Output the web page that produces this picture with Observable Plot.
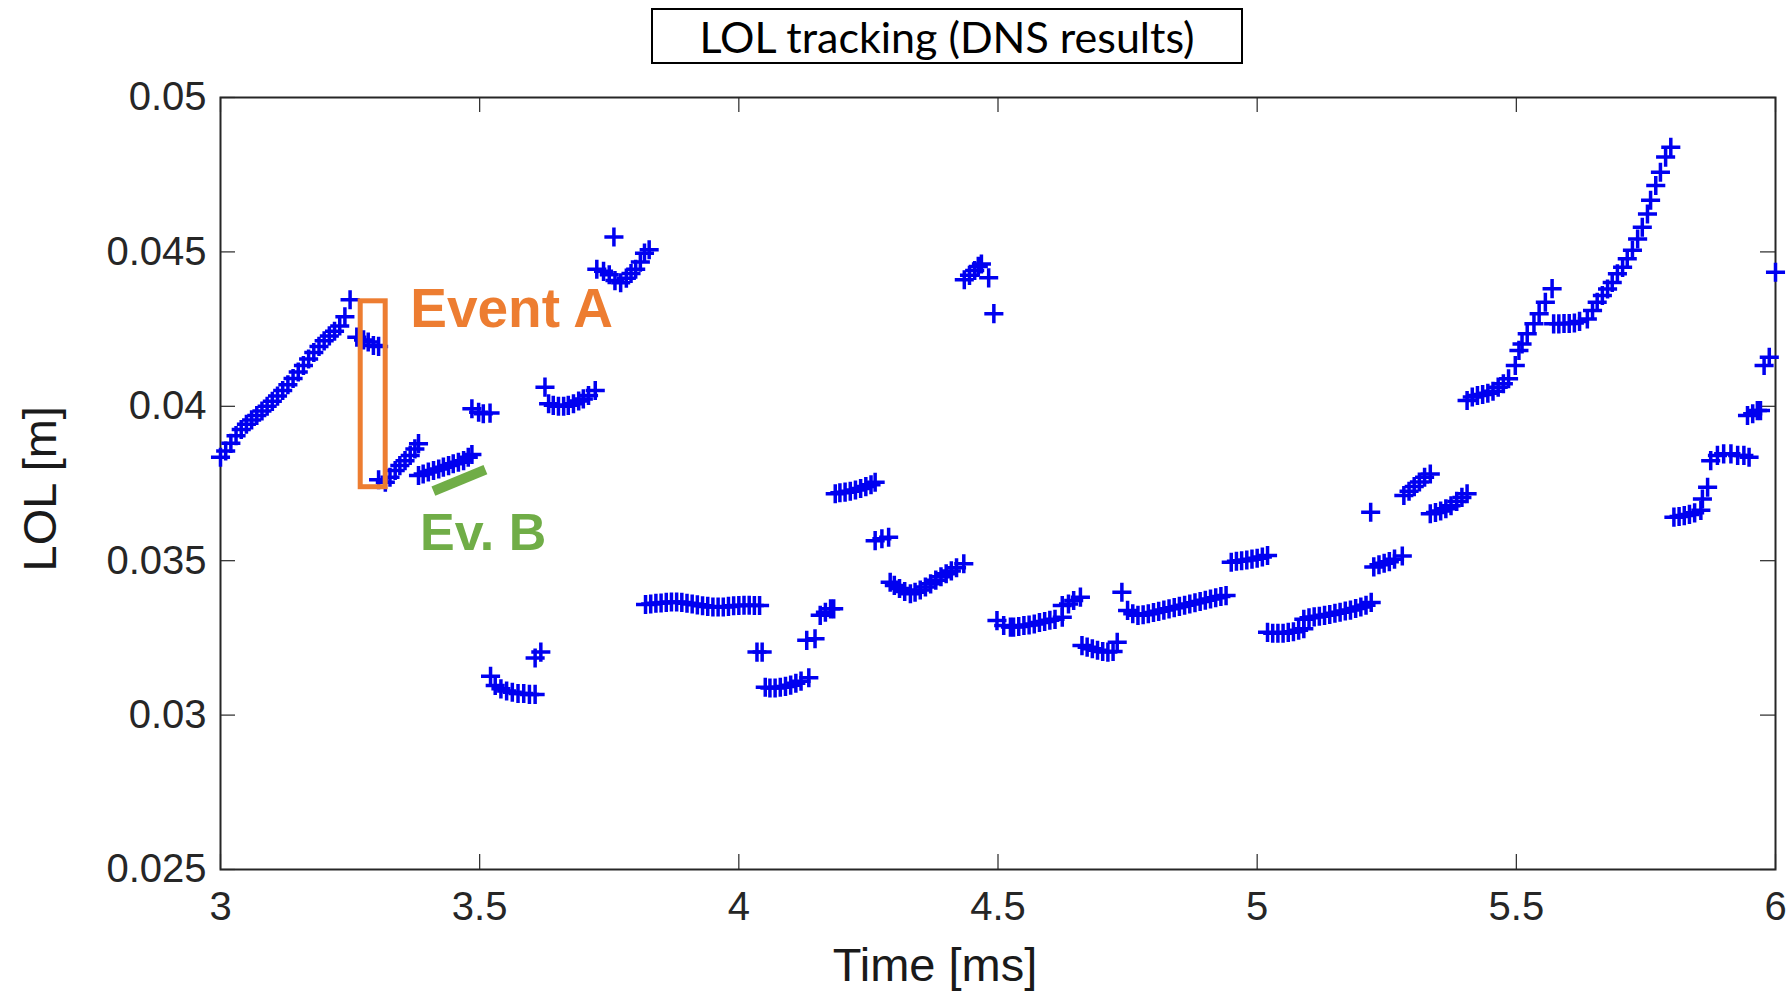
<!DOCTYPE html>
<html>
<head>
<meta charset="utf-8">
<script src="https://cdn.jsdelivr.net/npm/d3@7"></script>
<script src="https://cdn.jsdelivr.net/npm/@observablehq/plot@0.6"></script>
<style>
html, body { margin: 0; padding: 0; background: #fff; }
#wrap { width: 1792px; }
#titlebar { position: relative; height: 70px; }
#title {
  position: absolute; left: 651px; top: 8px; width: 592px; height: 56px;
  box-sizing: border-box; border: 2px solid #000;
  display: flex; align-items: center; justify-content: center;
  font-family: "Lato", "Liberation Sans", sans-serif; font-size: 43px; color: #000;
}
</style>
</head>
<body>
<div id="wrap">
  <div id="titlebar"><div id="title">LOL tracking (DNS results)</div></div>
  <div id="chart"></div>
</div>
<script>
// ---------- data: [time (ms), LOL (m)] ----------
const seg01 = [[3.00,0.03835],[3.01,0.03855],[3.02,0.03880],[3.03,0.03905],[3.04,0.03925],[3.05,0.03942],[3.06,0.03956],[3.07,0.03970],[3.08,0.03985],[3.09,0.04000],[3.10,0.04016],[3.11,0.04033],[3.12,0.04051],[3.13,0.04070],[3.14,0.04090],[3.15,0.04111],[3.16,0.04132],[3.17,0.04153],[3.18,0.04174],[3.19,0.04194],[3.20,0.04212],[3.21,0.04228],[3.22,0.04243],[3.23,0.04260],[3.24,0.04290],[3.25,0.04345]];
const seg02 = [[3.263,0.04224],[3.276,0.04215],[3.285,0.04208],[3.295,0.04197],[3.305,0.04194]];
const seg03 = [[3.305,0.03762],[3.318,0.03754],[3.327,0.03770],[3.337,0.03792],[3.346,0.03808],[3.356,0.03824],[3.366,0.03841],[3.375,0.03862],[3.382,0.03879]];
const seg04 = [[3.382,0.03776],[3.391,0.03781],[3.401,0.03787],[3.411,0.03792],[3.421,0.03797],[3.430,0.03803],[3.440,0.03808],[3.449,0.03814],[3.459,0.03819],[3.469,0.03824],[3.478,0.03835],[3.485,0.03844]];
const seg05 = [[3.485,0.03992],[3.498,0.03981],[3.507,0.03976],[3.520,0.03978]];
const seg06 = [[3.521,0.03126],[3.530,0.03096],[3.541,0.03085],[3.552,0.03078],[3.563,0.03074],[3.574,0.03070],[3.585,0.03070],[3.596,0.03067],[3.607,0.03067]];
const seg07 = [[3.607,0.03185],[3.618,0.03204]];
const seg08 = [[3.626,0.04062],[3.633,0.04008],[3.642,0.04003],[3.652,0.04000],[3.662,0.04000],[3.671,0.04003],[3.681,0.04008],[3.691,0.04017],[3.700,0.04024],[3.710,0.04035],[3.723,0.04051]];
const seg09 = [[3.726,0.04444],[3.739,0.04437],[3.750,0.04426],[3.759,0.04548],[3.761,0.04407],[3.772,0.04400],[3.783,0.04415],[3.792,0.04430],[3.801,0.04444],[3.810,0.04467],[3.818,0.04496],[3.827,0.04507]];
const seg10 = [[3.82,0.03358],[3.83,0.03360],[3.84,0.03362],[3.85,0.03363],[3.86,0.03365],[3.87,0.03366],[3.88,0.03366],[3.89,0.03365],[3.90,0.03362],[3.91,0.03360],[3.92,0.03357],[3.93,0.03354],[3.94,0.03352],[3.95,0.03350],[3.96,0.03350],[3.97,0.03350],[3.98,0.03352],[3.99,0.03354],[4.00,0.03355],[4.01,0.03356],[4.02,0.03356],[4.03,0.03355],[4.04,0.03355]];
const seg11 = [[4.035,0.03204],[4.045,0.03204]];
const seg12 = [[4.051,0.03090],[4.06,0.03088],[4.07,0.03088],[4.08,0.03090],[4.09,0.03093],[4.10,0.03097],[4.11,0.03103],[4.12,0.03110],[4.135,0.03121]];
const seg13 = [[4.131,0.03242],[4.147,0.03247],[4.157,0.03323],[4.167,0.03333],[4.177,0.03344],[4.183,0.03344]];
const seg14 = [[4.186,0.03717],[4.195,0.03720],[4.205,0.03722],[4.215,0.03725],[4.225,0.03729],[4.235,0.03734],[4.245,0.03740],[4.255,0.03746],[4.263,0.03754]];
const seg15 = [[4.263,0.03565],[4.276,0.03571],[4.289,0.03576]];
const seg16 = [[4.292,0.03430],[4.30,0.03420],[4.31,0.03410],[4.32,0.03400],[4.331,0.03393],[4.34,0.03398],[4.35,0.03405],[4.36,0.03415],[4.37,0.03425],[4.38,0.03437],[4.39,0.03448],[4.40,0.03458],[4.41,0.03467],[4.42,0.03477],[4.434,0.03490]];
const seg17 = [[4.435,0.04410],[4.445,0.04424],[4.455,0.04440],[4.462,0.04453],[4.468,0.04461],[4.482,0.04416],[4.492,0.04300]];
const seg18 = [[4.498,0.03306],[4.511,0.03290],[4.524,0.03285],[4.53,0.03285],[4.54,0.03287],[4.55,0.03290],[4.56,0.03292],[4.57,0.03295],[4.58,0.03300],[4.59,0.03303],[4.60,0.03307],[4.61,0.03310],[4.624,0.03317]];
const seg19 = [[4.624,0.03355],[4.636,0.03360],[4.646,0.03371],[4.659,0.03382]];
const seg20 = [[4.662,0.03225],[4.672,0.03220],[4.682,0.03215],[4.692,0.03210],[4.702,0.03206],[4.712,0.03204],[4.722,0.03206],[4.730,0.03236]];
const seg21 = [[4.739,0.03398],[4.75,0.03339],[4.76,0.03328],[4.77,0.03323],[4.78,0.03325],[4.79,0.03328],[4.80,0.03332],[4.81,0.03336],[4.82,0.03340],[4.83,0.03344],[4.84,0.03348],[4.85,0.03352],[4.86,0.03356],[4.87,0.03360],[4.88,0.03364],[4.89,0.03368],[4.90,0.03372],[4.91,0.03376],[4.92,0.03380],[4.93,0.03384],[4.94,0.03387]];
const seg22 = [[4.95,0.03495],[4.96,0.03498],[4.97,0.03500],[4.98,0.03502],[4.99,0.03505],[5.00,0.03508],[5.01,0.03512],[5.02,0.03517]];
const seg23 = [[5.02,0.03268],[5.03,0.03265],[5.04,0.03265],[5.05,0.03265],[5.06,0.03268],[5.07,0.03270],[5.08,0.03275],[5.09,0.03280]];
const seg24 = [[5.09,0.03310],[5.10,0.03315],[5.11,0.03318],[5.12,0.03320],[5.13,0.03323],[5.14,0.03326],[5.15,0.03330],[5.16,0.03333],[5.17,0.03337],[5.18,0.03340],[5.19,0.03345],[5.20,0.03350],[5.21,0.03356],[5.22,0.03365]];
const seg25 = [[5.219,0.03657],[5.225,0.03480],[5.235,0.03487],[5.245,0.03492],[5.255,0.03497],[5.265,0.03505],[5.28,0.03515]];
const seg26 = [[5.283,0.03711],[5.293,0.03725],[5.303,0.03740],[5.313,0.03755],[5.323,0.03770],[5.334,0.03781]];
const seg27 = [[5.334,0.03652],[5.344,0.03656],[5.354,0.03661],[5.364,0.03668],[5.374,0.03678],[5.385,0.03692],[5.395,0.03705],[5.405,0.03717]];
const seg28 = [[5.405,0.04019],[5.415,0.04030],[5.425,0.04035],[5.435,0.04038],[5.445,0.04042],[5.455,0.04049],[5.465,0.04062],[5.475,0.04073],[5.485,0.04089]];
const seg29 = [[5.498,0.04132],[5.505,0.04181],[5.511,0.04202],[5.521,0.04235],[5.534,0.04267],[5.544,0.04300],[5.556,0.04337],[5.569,0.04381]];
const seg30 = [[5.572,0.04267],[5.582,0.04267],[5.592,0.04268],[5.602,0.04268],[5.612,0.04270],[5.622,0.04275],[5.637,0.04283]];
const seg31 = [[5.647,0.04310],[5.656,0.04337],[5.666,0.04359],[5.676,0.04380],[5.685,0.04401],[5.695,0.04429],[5.705,0.04450],[5.714,0.04478],[5.724,0.04505],[5.734,0.04542],[5.743,0.04580],[5.753,0.04623],[5.759,0.04667],[5.769,0.04715],[5.778,0.04758],[5.788,0.04807],[5.798,0.04839]];
const seg32 = [[5.804,0.03641],[5.814,0.03643],[5.824,0.03646],[5.834,0.03650],[5.844,0.03655],[5.856,0.03663],[5.859,0.03700],[5.869,0.03738]];
const seg33 = [[5.875,0.03824],[5.888,0.03841],[5.900,0.03846],[5.914,0.03846],[5.927,0.03841],[5.939,0.03841],[5.949,0.03835]];
const seg34 = [[5.946,0.03970],[5.956,0.03976],[5.965,0.03986],[5.971,0.03986],[5.978,0.04132],[5.988,0.04159],[6.000,0.04434]];

const xTicks = [3, 3.5, 4, 4.5, 5, 5.5, 6];
const yTicks = [0.025, 0.03, 0.035, 0.04, 0.045, 0.05];
const xDomain = [3, 6];
const yDomain = [0.025, 0.05];

// annotations (data units)
const eventABox = [{t1: 3.2705, t2: 3.3187, v1: 0.03738, v2: 0.04340}];
const eventALabel = [{t: 3.366, v: 0.04256, text: "Event A"}];
const eventBBar = [{t1: 3.4107, v1: 0.03725, t2: 3.5111, v2: 0.03795}];
const eventBLabel = [{t: 3.385, v: 0.03536, text: "Ev. B"}];

// ---------- layout ----------
const W = 1792, H = 922, ML = 220, MR = 17, MT = 27, MB = 123;
const FW = W - ML - MR, FH = H - MT - MB, TL = 15;
const axisColor = "#262626";
const FONT = "'Liberation Sans', Arial, Helvetica, sans-serif";

const points = [seg01, seg02, seg03, seg04, seg05, seg06, seg07, seg08, seg09, seg10, seg11, seg12,
  seg13, seg14, seg15, seg16, seg17, seg18, seg19, seg20, seg21, seg22, seg23, seg24, seg25, seg26,
  seg27, seg28, seg29, seg30, seg31, seg32, seg33, seg34].flat().map(([t, v]) => ({t, v}));

const chart = Plot.plot({
  width: W, height: H,
  marginLeft: ML, marginRight: MR, marginTop: MT, marginBottom: MB,
  style: {fontFamily: FONT, fontSize: "40px", color: axisColor, background: "#fff"},
  x: {domain: xDomain, ticks: xTicks, tickFormat: d => String(d), tickSize: 0, tickPadding: 22, label: null},
  y: {domain: yDomain, ticks: yTicks, tickFormat: d => String(d), tickSize: 0, tickPadding: 14, label: null},
  marks: [
    Plot.tickY(yTicks, {y: d => d, insetRight: FW - TL, stroke: axisColor, strokeWidth: 1.2}),
    Plot.tickY(yTicks, {y: d => d, insetLeft: FW - TL, stroke: axisColor, strokeWidth: 1.2}),
    Plot.tickX(xTicks, {x: d => d, insetTop: FH - TL, stroke: axisColor, strokeWidth: 1.2}),
    Plot.tickX(xTicks, {x: d => d, insetBottom: FH - TL, stroke: axisColor, strokeWidth: 1.2}),
    Plot.frame({stroke: axisColor, strokeWidth: 2}),
    Plot.dot(points, {x: "t", y: "v", symbol: "plus", r: 6.2, stroke: "#0000f0", strokeWidth: 3.5}),
    Plot.rect(eventABox, {x1: "t1", x2: "t2", y1: "v1", y2: "v2", fill: "none", stroke: "#ED7D31", strokeWidth: 5}),
    Plot.text(eventALabel, {x: "t", y: "v", text: "text", textAnchor: "start", lineAnchor: "bottom",
      fill: "#ED7D31", fontWeight: "bold", fontSize: 55}),
    Plot.link(eventBBar, {x1: "t1", y1: "v1", x2: "t2", y2: "v2", stroke: "#70AD47", strokeWidth: 10}),
    Plot.text(eventBLabel, {x: "t", y: "v", text: "text", textAnchor: "start", lineAnchor: "bottom",
      fill: "#70AD47", fontWeight: "bold", fontSize: 52}),
    Plot.text(["Time [ms]"], {frameAnchor: "bottom", dx: -63, dy: 111, fontSize: 47, fill: "#1a1a1a"}),
    Plot.text(["LOL [m]"], {frameAnchor: "left", textAnchor: "start", dx: -180, dy: 88, rotate: -90, fontSize: 47, fill: "#1a1a1a"})
  ]
});
document.getElementById("chart").appendChild(chart);
</script>
</body>
</html>
